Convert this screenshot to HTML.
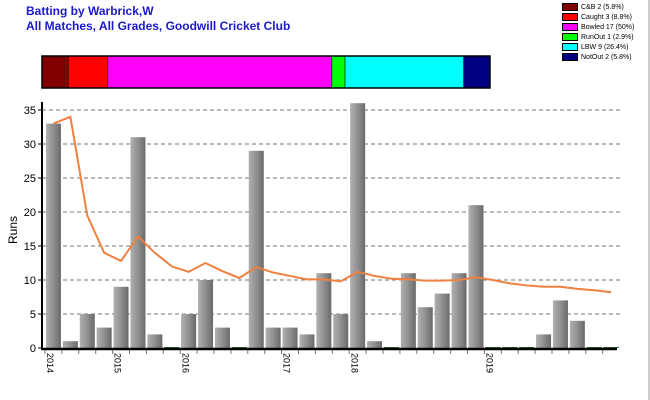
<!DOCTYPE html>
<html><head><meta charset="utf-8"><style>
body{margin:0;background:#fff;font-family:"Liberation Sans",sans-serif}
#wrap{position:relative;width:650px;height:400px;overflow:hidden;border-right:2px solid #ccc;box-sizing:border-box}
.t{position:absolute;left:26px;color:#1a1acc;font-weight:bold;font-size:12px}
.leg{position:absolute;left:562px;font-size:7px;color:#000;display:flex;align-items:center}
.leg i{display:inline-block;width:14px;height:6px;border:1px solid #000;margin-right:3px}
</style></head><body>
<div id="wrap">
<div class="t" style="top:4px">Batting by Warbrick,W</div>
<div class="t" style="top:19px">All Matches, All Grades, Goodwill Cricket Club</div>
<div class="leg" style="top:3px"><i style="background:#800000"></i>C&amp;B 2 (5.8%)</div>
<div class="leg" style="top:13px"><i style="background:#ff0000"></i>Caught 3 (8.8%)</div>
<div class="leg" style="top:23px"><i style="background:#ff00ff"></i>Bowled 17 (50%)</div>
<div class="leg" style="top:33px"><i style="background:#00ff00"></i>RunOut 1 (2.9%)</div>
<div class="leg" style="top:43px"><i style="background:#00ffff"></i>LBW 9 (26.4%)</div>
<div class="leg" style="top:53px"><i style="background:#000080"></i>NotOut 2 (5.8%)</div>
<svg id="svg" width="650" height="400" style="position:absolute;left:0;top:0"></svg>
</div>
<script>
const dismissals=["C&B","Caught","Bowled","RunOut","LBW","NotOut"];
const dismissalCounts=[2,3,17,1,9,2];
const dismissalColors=["#800000","#ff0000","#ff00ff","#00ff00","#00ffff","#000080"];
const runs=[33,1,5,3,9,31,2,0,5,10,3,0,29,3,3,2,11,5,36,1,0,11,6,8,11,21,0,0,0,2,7,4,0,0];
const average=[33,34,19.5,14,12.8,16.4,14,12,11.2,12.5,11.3,10.3,11.9,11.1,10.6,10.1,10.1,9.8,11.2,10.6,10.2,10.1,9.9,9.9,10.0,10.4,10.0,9.5,9.2,9.0,9.0,8.7,8.5,8.2];
const yTicks=[0,5,10,15,20,25,30,35];
const yearLabels=["2014","2015","2016","2017","2018","2019"];
const yearIdx=[0,4,8,14,18,26];
const NS="http://www.w3.org/2000/svg";
const svg=document.getElementById('svg');
function mk(t,a,p){const e=document.createElementNS(NS,t);for(const k in a)e.setAttribute(k,a[k]);(p||svg).appendChild(e);return e;}
const x0=45,slot=16.9,y0=348,yScale=238/35;
const X=i=>x0+slot*i+slot/2;
const Y=v=>y0-v*yScale;
// defs gradient
const defs=mk('defs',{});
const g=mk('linearGradient',{id:'bg',x1:0,x2:1,y1:0,y2:0},defs);
mk('stop',{offset:'0','stop-color':'#b0b0b0'},g);mk('stop',{offset:'0.5','stop-color':'#909090'},g);mk('stop',{offset:'1','stop-color':'#6a6a6a'},g);
// dismissal bar
const tot=dismissalCounts.reduce((a,b)=>a+b,0);let bx=42;const bw=448;
dismissalCounts.forEach((c,i)=>{const w=c/tot*bw;const r=mk('rect',{x:bx,y:56,width:w,height:32,fill:dismissalColors[i],stroke:'#000','stroke-width':0.5});

bx+=w;});
mk('rect',{x:42,y:56,width:bw,height:32,fill:'none',stroke:'#000','stroke-width':1.5});
// grid
yTicks.forEach(v=>{
 if(v>0){const l=mk('line',{x1:42,x2:622,y1:Y(v),y2:Y(v),stroke:'#777','stroke-dasharray':'4,3'});
 
 }
 const t=mk('text',{x:36,y:Y(v)+4,'text-anchor':'end','font-size':11,'font-family':'Liberation Sans'});t.textContent=v;
 
 
 mk('line',{x1:38,x2:42,y1:Y(v),y2:Y(v),stroke:'#000'});
});
// bars
runs.forEach((v,i)=>{
 const h=v*yScale;
 const r=mk('rect',{x:X(i)-7.5,y:y0-Math.max(h,1),width:15,height:Math.max(h,1),fill:v>0?'url(#bg)':'#1a6a1a'});
 
 
 mk('line',{x1:x0+slot*i,x2:x0+slot*i,y1:y0+2,y2:y0+6,stroke:'#777'});
});
// axes
mk('line',{x1:42,x2:42,y1:102,y2:349,stroke:'#000','stroke-width':2});
mk('line',{x1:41,x2:617,y1:349,y2:349,stroke:'#000','stroke-width':2.5});
// average line
const pl=mk('polyline',{points:average.map((v,i)=>X(i)+','+Y(v)).join(' '),fill:'none',stroke:'#f08040','stroke-width':2});


// year labels
yearLabels.forEach((y,k)=>{const x=X(yearIdx[k])-4;const t=mk('text',{x:x,y:353,'font-size':9,'font-family':'Liberation Sans',transform:`rotate(90 ${x} 353)`,'dominant-baseline':'middle'});
 t.setAttribute('transform',`rotate(90 ${x} 353)`);t.setAttribute('x',x);t.setAttribute('y',353);t.textContent=y;
 
 });
const yt=mk('text',{x:17,y:230,'font-size':12,'font-family':'Liberation Sans','text-anchor':'middle',transform:'rotate(-90 17 230)'});yt.textContent='Runs';


</script>
</body></html>
